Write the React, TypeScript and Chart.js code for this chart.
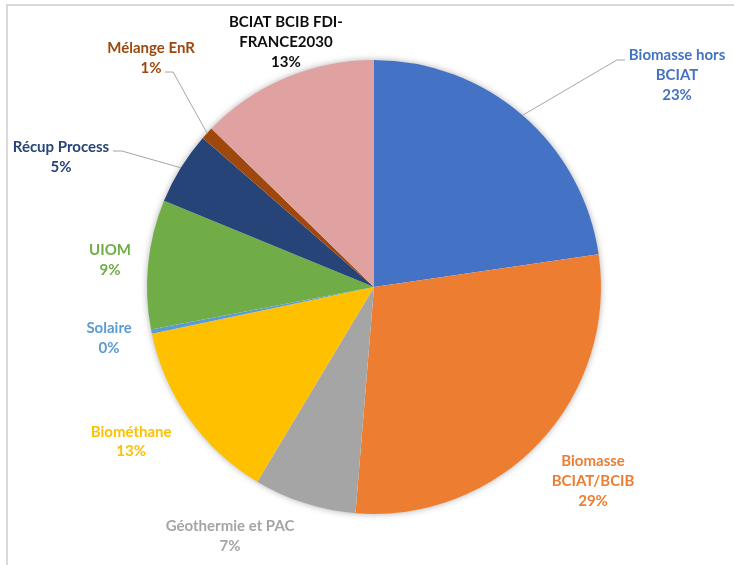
import React, { useEffect, useRef } from "react";
import { Chart, registerables } from "chart.js";

Chart.register(...registerables);

const categories = [
  "Biomasse hors BCIAT",
  "Biomasse BCIAT/BCIB",
  "Géothermie et PAC",
  "Biométhane",
  "Solaire",
  "UIOM",
  "Récup Process",
  "Mélange EnR",
  "BCIAT BCIB FDI-FRANCE2030",
];
const labelLines = [
  ["Biomasse hors", "BCIAT"],
  ["Biomasse", "BCIAT/BCIB"],
  ["Géothermie et PAC"],
  ["Biométhane"],
  ["Solaire"],
  ["UIOM"],
  ["Récup Process"],
  ["Mélange EnR"],
  ["BCIAT BCIB FDI-", "FRANCE2030"],
];
const values = [22.7, 28.6, 7.3, 13.1, 0.3, 9.2, 5.2, 0.9, 12.7];
const sliceColors = [
  "#4472C4",
  "#ED7D31",
  "#A5A5A5",
  "#FFC000",
  "#5B9BD5",
  "#70AD47",
  "#264478",
  "#9E480E",
  "#E0A1A1",
];
const textColors = [
  "#4472C4",
  "#ED7D31",
  "#A5A5A5",
  "#FFC000",
  "#5B9BD5",
  "#70AD47",
  "#264478",
  "#9E480E",
  "#0D0D0D",
];
// label block centre, in units of radius from pie centre
const labelOffsets = [
  [1.335, -0.934],
  [0.965, 0.855],
  [-0.634, 1.097],
  [-1.07, 0.681],
  [-1.167, 0.225],
  [-1.163, -0.119],
  [-1.379, -0.573],
  [-0.982, -1.009],
  [-0.388, -1.079],
];
// leader lines: [elbowX, elbowY, endX, endY] in radius units, or null
const leaders: (number[] | null)[] = [
  [1.07, -1.0, 1.106, -1.0],
  null,
  null,
  null,
  null,
  null,
  [-1.11, -0.599, -1.15, -0.599],
  [-0.885, -0.947, -0.921, -0.947],
  null,
];

const FONT = "bold 15px Lato, 'Open Sans', sans-serif";
const LINE_H = 19.7;

const labelPlugin = {
  id: "pieLabels",
  beforeDatasetsDraw(chart: any) {
    const meta = chart.getDatasetMeta(0);
    const arc = meta.data[0];
    if (!arc) return;
    const { x, y, outerRadius } = arc.getProps(["x", "y", "outerRadius"], true);
    const ctx = chart.ctx;
    ctx.save();
    ctx.shadowColor = "rgba(0,0,0,0.35)";
    ctx.shadowBlur = 7;
    ctx.shadowOffsetX = 0;
    ctx.shadowOffsetY = 0;
    ctx.fillStyle = "#ffffff";
    ctx.beginPath();
    ctx.arc(x, y, outerRadius - 0.5, 0, Math.PI * 2);
    ctx.fill();
    ctx.restore();
  },
  afterDatasetsDraw(chart: any) {
    const meta = chart.getDatasetMeta(0);
    const ctx = chart.ctx;
    const total = values.reduce((a, b) => a + b, 0);
    meta.data.forEach((el: any, i: number) => {
      const p = el.getProps(["x", "y", "startAngle", "endAngle", "outerRadius"], true);
      const r = p.outerRadius;
      const mid = (p.startAngle + p.endAngle) / 2;
      const ld = leaders[i];
      if (ld) {
        ctx.save();
        ctx.strokeStyle = "#A6A6A6";
        ctx.lineWidth = 1;
        ctx.beginPath();
        ctx.moveTo(p.x + Math.cos(mid) * r, p.y + Math.sin(mid) * r);
        ctx.lineTo(p.x + ld[0] * r, p.y + ld[1] * r);
        ctx.lineTo(p.x + ld[2] * r, p.y + ld[3] * r);
        ctx.stroke();
        ctx.restore();
      }
      const lines = [...labelLines[i], Math.round((values[i] / total) * 100) + "%"];
      const cx = p.x + labelOffsets[i][0] * r;
      const cy = p.y + labelOffsets[i][1] * r;
      ctx.save();
      ctx.font = FONT;
      ctx.fillStyle = textColors[i];
      ctx.textAlign = "center";
      ctx.textBaseline = "middle";
      const startY = cy - ((lines.length - 1) * LINE_H) / 2;
      lines.forEach((t, k) => ctx.fillText(t, cx, startY + k * LINE_H));
      ctx.restore();
    });
  },
};

export default function App() {
  const ref = useRef<HTMLCanvasElement>(null);
  useEffect(() => {
    if (!ref.current) return;
    const chart = new Chart(ref.current, {
      type: "pie",
      data: {
        labels: categories,
        datasets: [
          {
            data: values,
            backgroundColor: sliceColors,
            borderWidth: 0,
          },
        ],
      },
      options: {
        animation: false,
        responsive: false,
        devicePixelRatio: 1,
        layout: { padding: { left: 147, right: 133, top: 60, bottom: 51 } },
        plugins: {
          legend: { display: false },
          tooltip: { enabled: false },
        },
      },
      plugins: [labelPlugin],
    });
    return () => chart.destroy();
  }, []);
  return (
    <div
      style={{
        position: "absolute",
        left: 0,
        top: 0,
        width: 734,
        height: 565,
        overflow: "hidden",
        background: "#ffffff",
      }}
    >
      <div
        style={{
          position: "absolute",
          left: 6,
          top: 4,
          width: 800,
          height: 700,
          borderTop: "2px solid #D9D9D9",
          borderLeft: "2px solid #D9D9D9",
        }}
      />
      <canvas ref={ref} width={734} height={565} style={{ position: "absolute", left: 0, top: 0 }} />
    </div>
  );
}
